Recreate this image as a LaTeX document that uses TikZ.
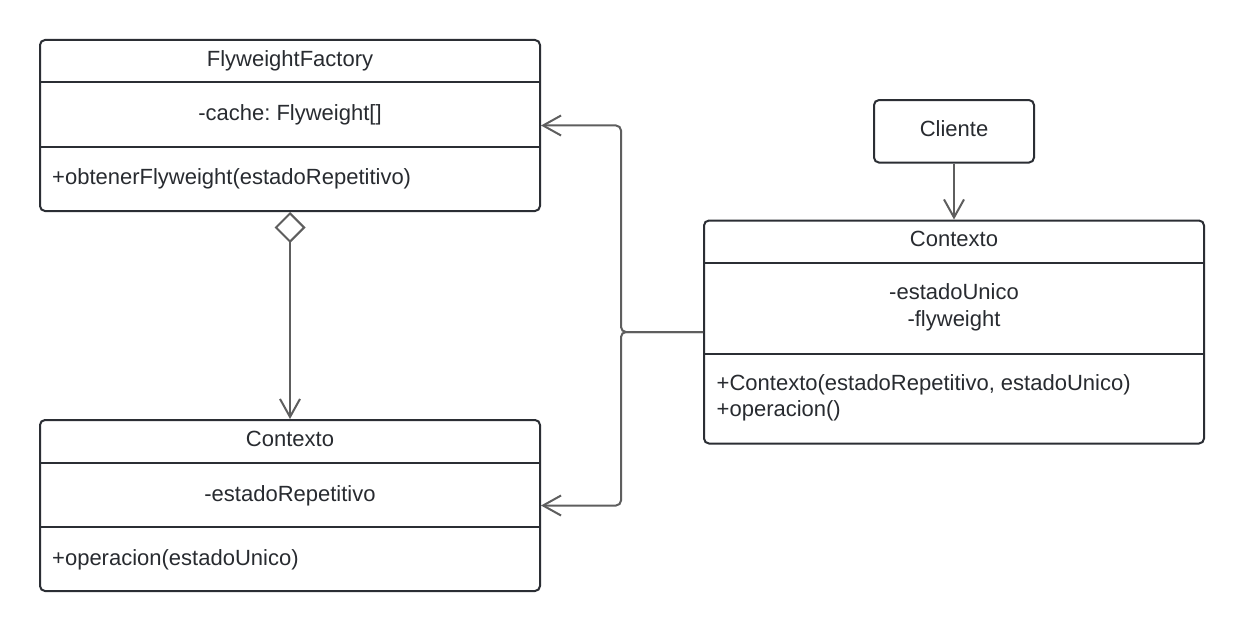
\documentclass[tikz,border=0pt]{standalone}
\usepackage{fontspec}
\setmainfont{Liberation Sans}
\usetikzlibrary{arrows.meta}
\definecolor{boxline}{HTML}{2B2E34}
\definecolor{txt}{HTML}{282B30}
\definecolor{connc}{HTML}{5E5E5E}
\frenchspacing
\begin{document}
\begin{tikzpicture}[x=1pt,y=-1pt,
  classbox/.style={draw=boxline, line width=2pt, rounded corners=5pt, minimum width=500pt, inner sep=0pt, fill=white},
  plainbox/.style={draw=boxline, line width=2pt, rounded corners=5pt, inner sep=0pt, fill=white},
  divider/.style={draw=boxline, line width=2pt},
  lbl/.style={text=txt, font=\fontsize{22}{26.4}\selectfont\frenchspacing, inner sep=0pt, anchor=base},
  lbll/.style={lbl, anchor=base west},
  connector/.style={draw=connc, line width=2pt, rounded corners=5pt},
  head/.style={-{Straight Barb[length=18pt,width=20pt]}}
]
\path[use as bounding box, fill=white] (0,0) rectangle (1244,631);

% class boxes
\node[classbox, minimum height=171pt] (ff) at (290,125.5) {};
\node[classbox, minimum height=171pt] (ctxA) at (290,505.5) {};
\node[classbox, minimum height=223pt] (ctxB) at (954,332) {};
\node[plainbox, minimum width=160pt, minimum height=62.5pt] (cli) at (954,131.3) {};

% dividers
\draw[divider] (40,82.5) -- (540,82.5);
\draw[divider] (40,147) -- (540,147);
\draw[divider] (40,462.5) -- (540,462.5);
\draw[divider] (40,527) -- (540,527);
\draw[divider] (704,263) -- (1204,263);
\draw[divider] (704,354) -- (1204,354);

% texts
\node[lbl] (cliT) at (954,137) {Cliente};

\node[lbl] (ffT) at (290,66.5) {FlyweightFactory};
\node[lbl] (ffA) at (290,121) {-cache: Flyweight[]};
\node[lbll] (ffM) at (52,185) {+obtenerFlyweight(estadoRepetitivo)};

\node[lbl] (caT) at (290,446.5) {Contexto};
\node[lbl] (caA) at (290,501) {-estadoRepetitivo};
\node[lbll] (caM) at (52,565) {+operacion(estadoUnico)};

\node[lbl] (cbT) at (954,246.5) {Contexto};
\node[lbl] (cbA1) at (954,299.5) {-estadoUnico};
\node[lbl] (cbA2) at (954,326) {-flyweight};
\node[lbll] (cbM1) at (716.5,390) {+Contexto(estadoRepetitivo, estadoUnico)};
\node[lbll] (cbM2) at (716.5,416.5) {+operacion()};

% connectors
\draw[connector, head] (ctxB.west) -- ++(-82,0) |- (ff.east);
\draw[connector, head] (ctxB.west) -- ++(-82,0) |- (ctxA.east);
\draw[connector, {Diamond[open, fill=white, length=31pt, width=31pt]}-{Straight Barb[length=18pt,width=20pt]}] (ff.south) -- (ctxA.north);
\draw[connector, head] (cli.south) -- (ctxB.north);
\end{tikzpicture}
\end{document}
